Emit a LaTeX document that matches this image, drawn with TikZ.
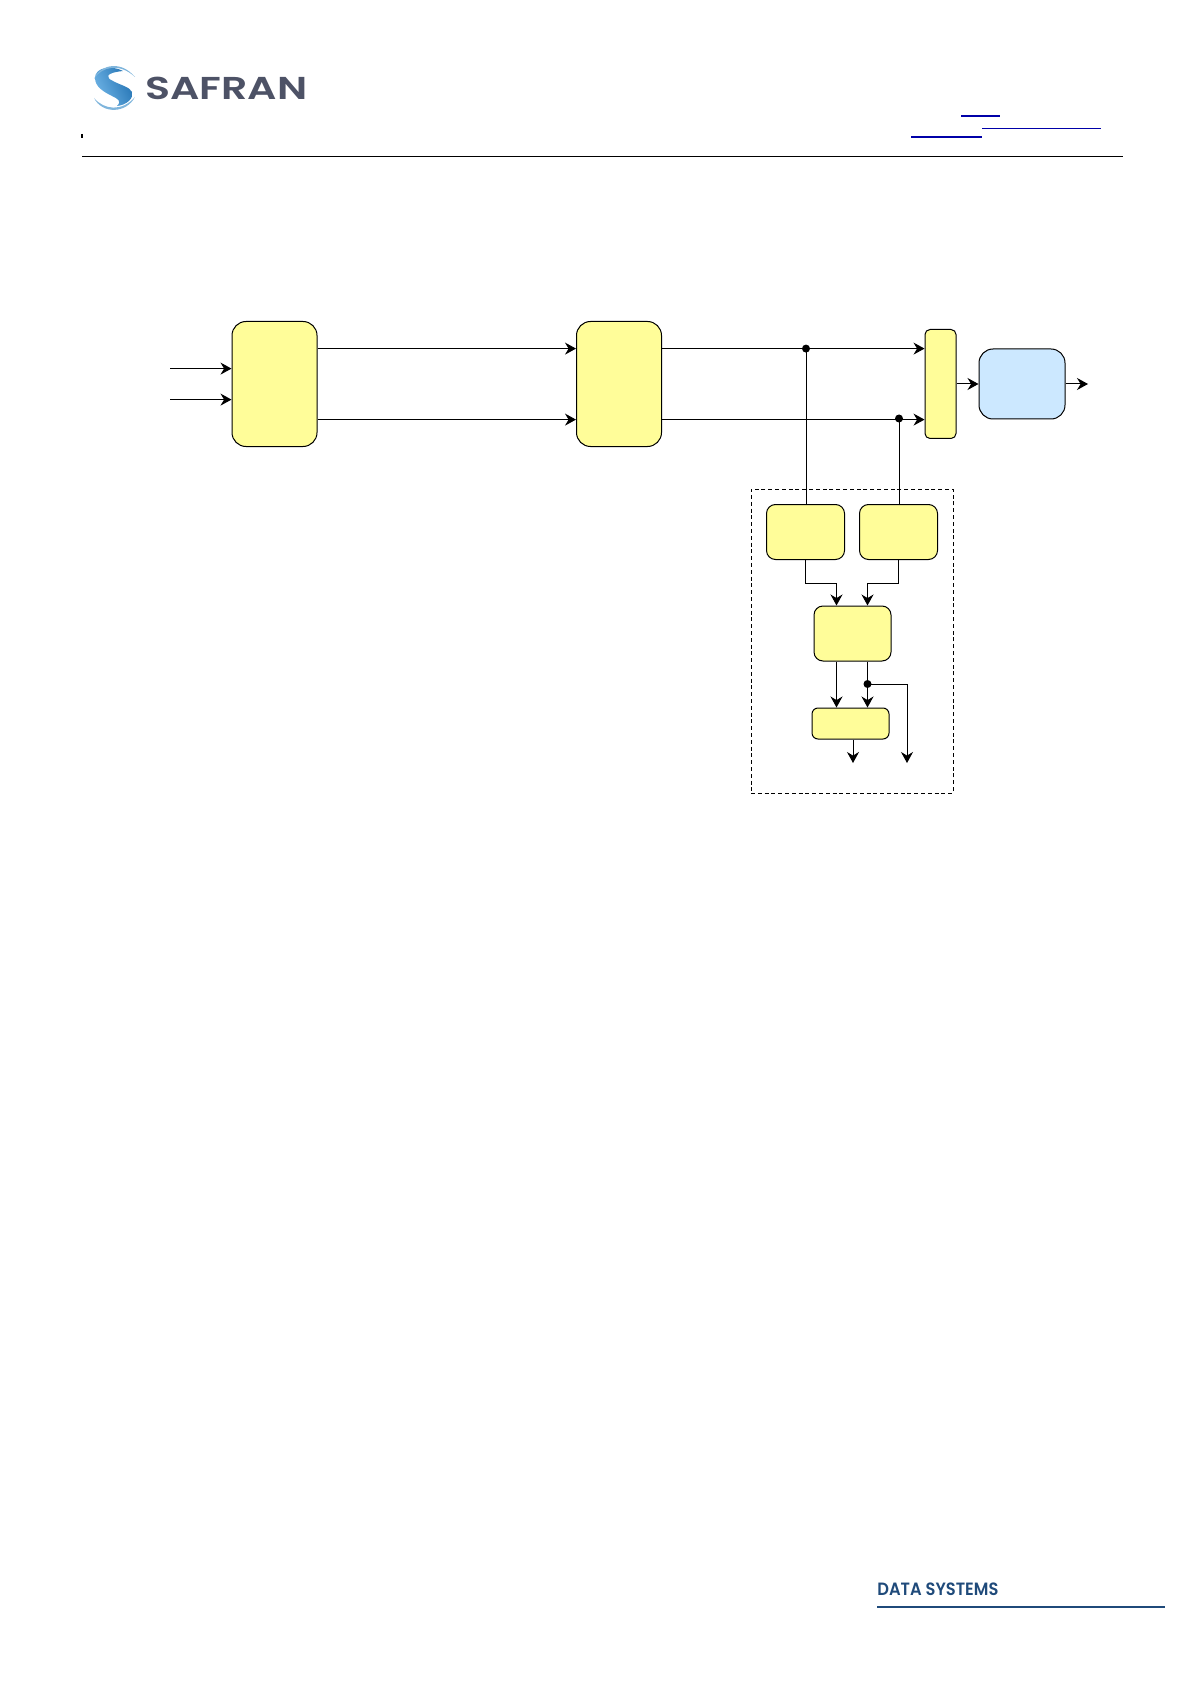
\documentclass[tikz,border=0pt]{standalone}
\usepackage{fontspec}
\setmainfont{Liberation Sans}
\newfontfamily\logofont{Poppins}[UprightFont=* SemiBold]
\usetikzlibrary{arrows.meta,calc}
\definecolor{boxyellow}{HTML}{FFFD99}
\definecolor{boxblue}{HTML}{CCE8FF}
\definecolor{linkblue}{HTML}{0000A8}
\definecolor{logogrey}{HTML}{4D5266}
\definecolor{footblue}{HTML}{1F4A7A}
\definecolor{logolight}{HTML}{6FB4E6}
\definecolor{logodark}{HTML}{1F6FB0}
\definecolor{logoarc}{HTML}{7FB5DC}
\tikzset{
  x=0.5pt,y=-0.5pt,
  block/.style={draw=black,line width=0.5pt,inner sep=0pt,fill=boxyellow},
  bigblock/.style={block,rounded corners=7pt},
  midblock/.style={block,rounded corners=4.5pt},
  smallblock/.style={block,rounded corners=2.5pt},
  wire/.style={line width=0.5pt,draw=black},
  arrowwire/.style={wire,-{Stealth[length=5.5pt,width=6pt,inset=1.8pt]}},
  junction/.style={circle,fill=black,inner sep=0pt,minimum size=4pt},
  linkline/.style={draw=linkblue},
}
\begin{document}
\begin{tikzpicture}
\useasboundingbox (0,0) rectangle (1191,1684);
% logo
\shade[left color=logolight,right color=logodark,shading angle=115]
  (123,71) .. controls (112,65) and (95,67) .. (95,78)
  .. controls (95,87) and (104,92) .. (112,96)
  .. controls (118,99) and (122,101) .. (117,106)
  .. controls (127,105) and (134,98) .. (132,92)
  .. controls (130,87) and (120,85) .. (113,81)
  .. controls (106,78) and (104,73) .. (123,71) -- cycle;
\fill[logoarc] (94,79) .. controls (98,67) and (119,58) .. (135,77)
  .. controls (120,63) and (102,66) .. (94,79) -- cycle;
\fill[logoarc] (94,98) .. controls (104,110) and (122,112) .. (135,97)
  .. controls (126,114) and (102,114) .. (94,98) -- cycle;
\node[anchor=west,inner sep=0pt,text=logogrey] (logotext) at (145,88.5)
  {\resizebox{81pt}{11.2pt}{\logofont SAFRAN}};
% header
\coordinate (ruleL) at (82,156.6);
\coordinate (ruleR) at (1123,156.6);
\draw[line width=0.5pt] (ruleL) -- (ruleR);
\coordinate (tickT) at (82,134);
\coordinate (tickB) at (82,138);
\draw[line width=1pt] (tickT) -- (tickB);
\coordinate (l1a) at (961,116); \coordinate (l1b) at (1000,116);
\coordinate (l2a) at (982,129); \coordinate (l2b) at (1101,129);
\coordinate (l3a) at (911,137); \coordinate (l3b) at (982,137);
\draw[linkline,line width=1pt] (l1a) -- (l1b);
\draw[linkline,line width=0.5pt] (l2a) -- (l2b);
\draw[linkline,line width=1pt] (l3a) -- (l3b);
% boxes
\node[bigblock,minimum width=42.5pt,minimum height=62.5pt] (A) at (274.5,384) {};
\node[bigblock,minimum width=42.5pt,minimum height=62.5pt] (B) at (619,384) {};
\node[smallblock,minimum width=15.5pt,minimum height=54.5pt] (M) at (940.5,384) {};
\node[bigblock,fill=boxblue,minimum width=43pt,minimum height=35pt] (R) at (1022,384) {};
\node[midblock,minimum width=39pt,minimum height=27.5pt] (C) at (805.5,532) {};
\node[midblock,minimum width=39pt,minimum height=27.5pt] (D) at (898.5,532) {};
\node[midblock,minimum width=38.5pt,minimum height=27.5pt] (E) at (852.5,633.5) {};
\node[smallblock,rounded corners=3pt,minimum width=38.5pt,minimum height=15.5pt] (F) at (850.5,723.5) {};
\node[draw=black,dash pattern=on 2pt off 1.4pt,line width=0.5pt,inner sep=0pt,minimum width=101pt,minimum height=152pt] (G) at (852,641) {};
% free ends and junctions
\coordinate (in1) at (170,368.6);
\coordinate (in2) at (170,399.6);
\coordinate (out) at (1088,384);
\node[junction] (J1) at (806,348.6) {};
\node[junction] (J2) at (899,418.5) {};
\node[junction] (J3) at (867.5,684) {};
\coordinate (up) at (0,348.6);
\coordinate (lo) at (0,419.6);
\coordinate (end1) at (853,763);
\coordinate (end2) at (907,763);
\coordinate (cl) at (836.5,0);
\coordinate (cr) at (867.5,0);
\coordinate (elbow) at (0,583);
% connectors
\draw[arrowwire] (in1) -- (A.west |- in1);
\draw[arrowwire] (in2) -- (A.west |- in2);
\draw[arrowwire] (A.east |- up) -- (B.west |- up);
\draw[arrowwire] (A.east |- lo) -- (B.west |- lo);
\draw[arrowwire] (B.east |- up) -- (M.west |- up);
\draw[arrowwire] (B.east |- lo) -- (M.west |- lo);
\draw[arrowwire] (M.east |- R.west) -- (R.west);
\draw[arrowwire] (R.east) -- (out);
\draw[wire] (J1.center) -- (C.north -| J1);
\draw[wire] (J2.center) -- (D.north -| J2);
\draw[arrowwire] (C.south) -- (C.south |- elbow) -- (cl |- elbow) -- (E.north -| cl);
\draw[arrowwire] (D.south) -- (D.south |- elbow) -- (cr |- elbow) -- (E.north -| cr);
\draw[arrowwire] (E.south -| cl) -- (F.north -| cl);
\draw[arrowwire] (E.south -| cr) -- (F.north -| cr);
\draw[arrowwire] (J3.center) -| (end2);
\draw[arrowwire] (F.south -| end1) -- (end1);
% footer
\node[anchor=west,inner sep=0pt,text=footblue] (foot) at (877,1589)
  {\resizebox{60.5pt}{6.3pt}{\logofont DATA SYSTEMS}};
\coordinate (footL) at (877,1607);
\coordinate (footR) at (1165,1607);
\draw[footblue,line width=0.6pt] (footL) -- (footR);
\end{tikzpicture}
\end{document}
